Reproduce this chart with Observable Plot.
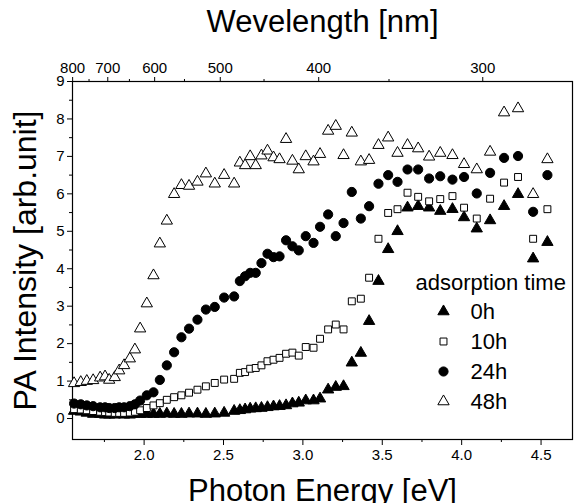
<!DOCTYPE html>
<html>
<head>
<meta charset="utf-8">
<script src="https://cdn.jsdelivr.net/npm/d3@7"></script>
<script src="https://cdn.jsdelivr.net/npm/@observablehq/plot@0.6"></script>
<style>
  html, body { margin: 0; padding: 0; background: white; }
  #chart { width: 574px; height: 503px; overflow: hidden; }
</style>
</head>
<body>
<div id="chart"></div>
<script>
// ---- data ----
const energy = [1.559,1.601,1.639,1.679,1.723,1.754,1.780,1.815,1.843,1.874,1.910,1.942,1.975,2.017,2.059,2.099,2.143,2.189,2.235,2.283,2.336,2.389,2.445,2.504,2.567,2.603,2.636,2.668,2.703,2.739,2.777,2.815,2.853,2.894,2.934,2.974,3.018,3.067,3.108,3.159,3.207,3.256,3.308,3.365,3.417,3.476,3.537,3.596,3.659,3.726,3.795,3.865,3.942,4.015,4.095,4.179,4.267,4.355,4.450,4.540];

const pa0h = [0.2,0.18,0.15,0.12,0.12,0.1,0.1,0.1,0.12,0.1,0.1,0.12,0.12,0.12,0.12,0.12,0.13,0.12,0.12,0.13,0.13,0.12,0.13,0.15,
  0.2,0.22,0.24,0.26,0.27,0.28,0.3,0.32,0.33,0.35,0.4,0.42,0.48,0.48,0.53,0.77,0.84,0.86,1.49,1.75,2.6,3.67,4.52,5.0,5.63,5.67,5.63,5.54,5.59,5.37,5.07,5.29,5.67,5.99,4.27,4.71];

const pa10h = [0.25,0.24,0.22,0.2,0.18,0.17,0.16,0.15,0.15,0.15,0.16,0.18,0.22,0.28,
  0.35,0.41,0.5,0.57,0.62,0.69,0.77,0.86,0.95,1.04,1.06,
  1.22,1.24,1.33,1.35,1.42,1.53,1.57,1.62,1.73,1.76,1.68,1.91,1.89,2.13,2.38,2.51,2.38,3.13,3.2,3.76,4.8,5.49,5.59,6.03,5.92,5.8,5.86,5.94,5.63,5.34,5.87,6.3,6.45,4.8,5.59];

const pa24h = [0.4,0.38,0.35,0.33,0.3,0.3,0.28,0.28,0.3,0.3,0.33,0.38,0.48,
  0.62,0.7,1.03,1.42,1.77,2.17,2.4,2.64,2.91,2.98,3.23,3.26,3.67,3.8,3.89,3.89,4.15,4.4,4.31,4.33,4.76,4.6,4.49,4.87,4.69,5.12,5.45,4.87,5.22,6.05,5.34,5.67,6.27,6.5,6.32,6.65,6.65,6.41,6.47,6.38,6.45,6.01,6.56,6.96,7.01,5.52,6.5];

const pa48h = [0.94,0.97,1.0,1.02,1.09,1.12,1.03,1.1,1.28,1.42,1.6,1.84,2.4,3.07,3.82,4.67,5.28,5.99,6.23,6.21,6.32,6.54,6.27,6.5,6.27,6.83,6.76,7.0,6.76,7.02,7.15,6.97,6.92,7.46,6.88,6.65,7.0,6.86,7.06,7.68,7.81,7.03,7.63,6.86,6.9,7.3,7.5,7.09,7.3,7.21,6.99,7.09,7.03,6.79,6.65,7.12,8.17,8.28,5.99,6.92];

const seriesNames = ["0h", "10h", "24h", "48h"];
const seriesValues = [pa0h, pa10h, pa24h, pa48h];
const energyTicks = [2.0, 2.5, 3.0, 3.5, 4.0, 4.5];
const energyMinorTicks = [1.75, 2.25, 2.75, 3.25, 3.75, 4.25];
const intensityTicks = [0,1,2,3,4,5,6,7,8,9];
const intensityMinorTicks = [0.5,1.5,2.5,3.5,4.5,5.5,6.5,7.5,8.5];
const wavelengthTicks = [800, 700, 600, 500, 400, 300];
const wavelengthMinorTicks = [750, 650, 550, 450, 350];
const hc = 1239.84; // eV·nm

// ---- styles ----
const styleOf = {
  "0h":  {symbol: "triangle", fill: "black", r: 4.2},
  "10h": {symbol: "square",   fill: "white", r: 3.9},
  "24h": {symbol: "circle",   fill: "black", r: 4.6},
  "48h": {symbol: "triangle", fill: "white", r: 4.2}
};

const rows = [];
seriesNames.forEach((name, si) => {
  seriesValues[si].forEach((v, i) => rows.push({series: name, E: energy[i], PA: v}));
});

const font = "'Liberation Sans', Arial, Helvetica, sans-serif";

const dotMarks = seriesNames.map(name => Plot.dot(rows.filter(d => d.series === name), {
  x: "E", y: "PA",
  symbol: () => styleOf[name].symbol,
  r: styleOf[name].r,
  fill: styleOf[name].fill,
  stroke: "black",
  strokeWidth: 1
}));

const legendDx = 371, legendDy0 = 230, legendStep = 30;
const legendMarks = [];
seriesNames.forEach((name, i) => {
  legendMarks.push(Plot.dot([name], {
    frameAnchor: "top-left", dx: legendDx, dy: legendDy0 + i * legendStep,
    symbol: () => styleOf[name].symbol, r: styleOf[name].r,
    fill: styleOf[name].fill, stroke: "black", strokeWidth: 1
  }));
  legendMarks.push(Plot.text([name], {
    frameAnchor: "top-left", dx: legendDx + 27, dy: legendDy0 + i * legendStep,
    text: d => d, textAnchor: "start", lineAnchor: "middle", fontSize: 22, fill: "black"
  }));
});
legendMarks.push(Plot.text(["adsorption time"], {
  frameAnchor: "top-left", dx: 343, dy: 201,
  text: d => d, textAnchor: "start", lineAnchor: "middle", fontSize: 22, fill: "black"
}));

const chart = Plot.plot({
  width: 574,
  height: 503,
  marginLeft: 72,
  marginRight: 2,
  marginTop: 81,
  marginBottom: 64,
  style: {fontFamily: font, fontSize: "15px", color: "black", background: "white", overflow: "visible"},
  x: {domain: [1.549, 4.698]},
  y: {domain: [-0.56, 9]},
  marks: [
    // bottom energy axis
    Plot.axisX({anchor: "bottom", ticks: energyTicks, tickFormat: d3.format(".1f"), tickSize: 6, tickPadding: 4, label: null, fontSize: 15}),
    Plot.axisX({anchor: "bottom", ticks: energyMinorTicks, tickFormat: () => "", tickSize: 3, label: null}),
    // top wavelength axis
    Plot.axisX({anchor: "top", ticks: wavelengthTicks.map(w => hc / w), tickFormat: d => String(Math.round(hc / d)), tickSize: 5, tickPadding: 4, label: null, fontSize: 15}),
    Plot.axisX({anchor: "top", ticks: wavelengthMinorTicks.map(w => hc / w), tickFormat: () => "", tickSize: 3, label: null}),
    // left intensity axis
    Plot.axisY({anchor: "left", ticks: intensityTicks, tickFormat: d3.format("d"), tickSize: 5, tickPadding: 3, label: null, fontSize: 15}),
    Plot.axisY({anchor: "left", ticks: intensityMinorTicks, tickFormat: () => "", tickSize: 3, label: null}),
    Plot.frame({stroke: "black", strokeWidth: 1.2}),
    ...dotMarks,
    ...legendMarks,
    // axis titles
    Plot.text(["Wevelength [nm]"], {frameAnchor: "top", dy: -59, text: d => d, textAnchor: "middle", lineAnchor: "middle", fontSize: 31, fill: "black"}),
    Plot.text(["Photon Energy [eV]"], {frameAnchor: "bottom", dy: 52, text: d => d, textAnchor: "middle", lineAnchor: "middle", fontSize: 31, fill: "black"}),
    Plot.text(["PA Intensity [arb.unit]"], {frameAnchor: "left", dx: -47, rotate: -90, text: d => d, textAnchor: "middle", lineAnchor: "middle", fontSize: 32, fill: "black"})
  ]
});
document.getElementById("chart").appendChild(chart);
</script>
</body>
</html>
